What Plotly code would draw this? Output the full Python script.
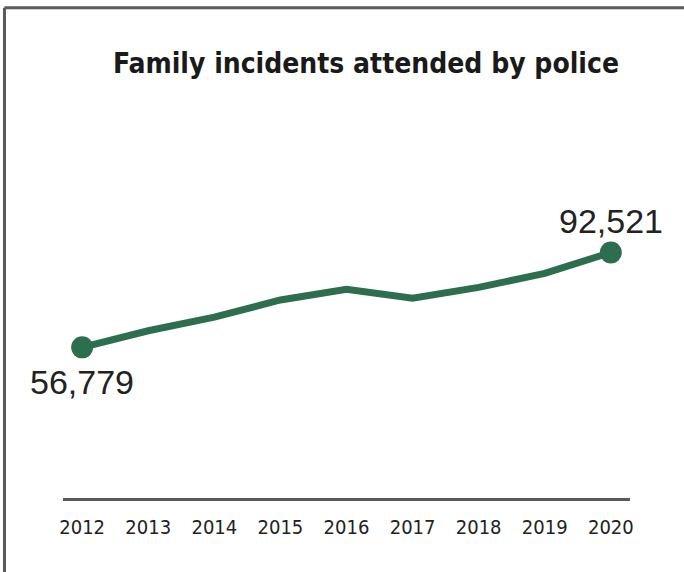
import plotly.graph_objects as go

# Family incidents attended by police, by year
years = [2012, 2013, 2014, 2015, 2016, 2017, 2018, 2019, 2020]
incidents = [56779, 63030, 68150, 74650, 78700, 75300, 79400, 84650, 92521]
tick_labels = [str(y) for y in years]

GREEN = "#2d6e4f"
BORDER = "#5a5a5a"
CONDENSED = "DejaVu Sans Condensed, Liberation Sans Narrow, Arial Narrow, sans-serif"

fig = go.Figure()

fig.add_trace(go.Scatter(
    x=years, y=incidents, mode="lines",
    line=dict(color=GREEN, width=7),
    hoverinfo="skip", showlegend=False,
))

# End-point markers
fig.add_trace(go.Scatter(
    x=[years[0], years[-1]], y=[incidents[0], incidents[-1]],
    mode="markers",
    marker=dict(color=GREEN, size=22),
    hoverinfo="skip", showlegend=False, cliponaxis=False,
))

label_font = dict(family="Liberation Sans, Arial, sans-serif", size=34, color="#222222")
annotations = [
    dict(x=years[0], y=incidents[0], xref="x", yref="y", text=f"{incidents[0]:,}",
         showarrow=False, xanchor="center", yanchor="middle", yshift=-35, font=label_font),
    dict(x=years[-1], y=incidents[-1], xref="x", yref="y", text=f"{incidents[-1]:,}",
         showarrow=False, xanchor="center", yanchor="middle", yshift=32, font=label_font),
]

fig.update_layout(
    width=684, height=572,
    margin=dict(l=63, r=54, t=100, b=74),
    paper_bgcolor="white", plot_bgcolor="white",
    title=dict(
        text="<b>Family incidents attended by police</b>",
        x=0.535, xanchor="center", y=0.89, yanchor="middle",
        font=dict(family=CONDENSED, size=28, color="#1a1a1a"),
    ),
    xaxis=dict(
        range=[2011.71, 2020.29], tickmode="array", tickvals=years, ticktext=tick_labels,
        showgrid=False, zeroline=False, showline=True, linecolor=BORDER, linewidth=3,
        ticks="", ticklen=0, ticklabelstandoff=9,
        tickfont=dict(family=CONDENSED, size=20, color="#222222"),
    ),
    yaxis=dict(range=[0, 150000], visible=False, showgrid=False, zeroline=False),
    annotations=annotations,
    shapes=[
        dict(type="line", xref="paper", yref="paper",
             x0=-0.1032, x1=1.1, y0=1.232, y1=1.232, line=dict(color=BORDER, width=3)),
        dict(type="line", xref="paper", yref="paper",
             x0=-0.1032, x1=-0.1032, y0=1.232, y1=-0.2, line=dict(color=BORDER, width=3)),
    ],
)

fig.write_html("out.html")
